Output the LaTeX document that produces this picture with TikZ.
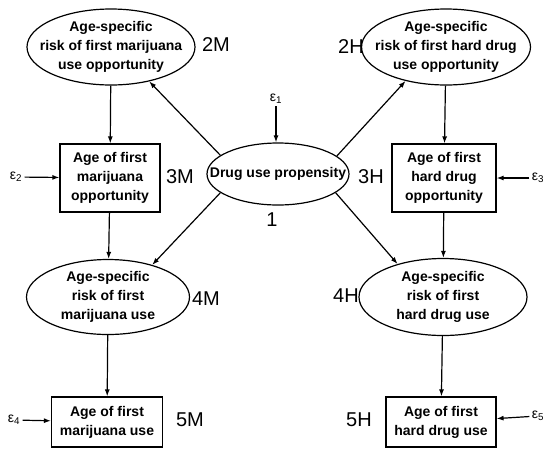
\documentclass[tikz,border=0pt]{standalone}
\usepackage{fontspec}
\setmainfont{Liberation Sans}
\usetikzlibrary{shapes.geometric,arrows.meta}
\newcommand{\diagfont}{\fontsize{14}{19}\selectfont\bfseries}
\newcommand{\inell}[1]{\smash{\makebox[0pt]{\raisebox{-.25em}{\begin{tabular}{@{}c@{}}#1\end{tabular}}}}}

\begin{document}
\begin{tikzpicture}[x=1pt, y=-1pt, line width=1.2pt,
    riskell/.style={ellipse, draw, inner sep=0pt, font=\diagfont},
    agebox/.style={draw, inner sep=0pt, align=center, font=\diagfont},
    tag/.style={font=\fontsize{20}{24}\selectfont},
    err/.style={font=\fontsize{14}{16}\selectfont, inner sep=2pt},
    >={Latex[length=7pt,width=5pt]}]
    \useasboundingbox (0,0) rectangle (548,448);

    \node[riskell, minimum width=168pt, minimum height=76pt] (m2) at (111,47) {\inell{Age-specific\\risk of first marijuana\\use opportunity}};
    \node[riskell, minimum width=169pt, minimum height=76pt] (h2) at (446,47) {\inell{Age-specific\\risk of first hard drug\\use opportunity}};
    \node[riskell, minimum width=142pt, minimum height=62pt] (prop) at (278,174) {\inell{Drug use propensity}};
    \node[agebox, minimum width=100pt, minimum height=68pt] (m3) at (110,178) {Age of first\\marijuana\\opportunity};
    \node[agebox, minimum width=104pt, minimum height=68pt] (h3) at (444,178) {Age of first\\hard drug\\opportunity};
    \node[riskell, minimum width=163pt, minimum height=75pt] (m4) at (108,297) {\inell{Age-specific\\risk of first\\marijuana use}};
    \node[riskell, minimum width=168pt, minimum height=77pt] (h4) at (443,297) {\inell{Age-specific\\risk of first\\hard drug use}};
    \node[agebox, minimum width=111pt, minimum height=50pt] (m5) at (107,422) {Age of first\\marijuana use};
    \node[agebox, minimum width=110pt, minimum height=50pt] (h5) at (441,422) {Age of first\\hard drug use};

    \node[tag] (l2m) at (216,45) {2M};
    \node[tag] (l2h) at (351,47) {2H};
    \node[tag] (l1) at (272,220) {1};
    \node[tag] (l3m) at (180,177) {3M};
    \node[tag] (l3h) at (371,177) {3H};
    \node[tag] (l4m) at (206,299) {4M};
    \node[tag] (l4h) at (346,296) {4H};
    \node[tag] (l5m) at (190,420) {5M};
    \node[tag] (l5h) at (359,420) {5H};

    \node[err] (e1) at (276,99) {ε\textsubscript{1}};
    \node[err] (e2) at (16,177) {ε\textsubscript{2}};
    \node[err] (e3) at (538,178) {ε\textsubscript{3}};
    \node[err] (e4) at (14,420) {ε\textsubscript{4}};
    \node[err] (e5) at (538,416) {ε\textsubscript{5}};

    \draw[->] (e1) -- (e1 |- prop.north);
    \draw[->] (e2) -- (m3);
    \draw[->] (e3) -- (h3);
    \draw[->] (e4) -- (m5);
    \draw[->] (e5) -- (h5);

    \draw[->] (m2) -- (m3);
    \draw[->] (m3) -- (m4);
    \draw[->] (m4) -- (m5);
    \draw[->] (h2) -- (h3);
    \draw[->] (h3) -- (h4);
    \draw[->] (h4) -- (h5);

    \draw[->] (prop.162) -- (m2.-42);
    \draw[->] (prop.17) -- (h2.220);
    \draw[->] (prop.198) -- (m4.36);
    \draw[->] (prop.342) -- (h4.144);
\end{tikzpicture}
\end{document}
